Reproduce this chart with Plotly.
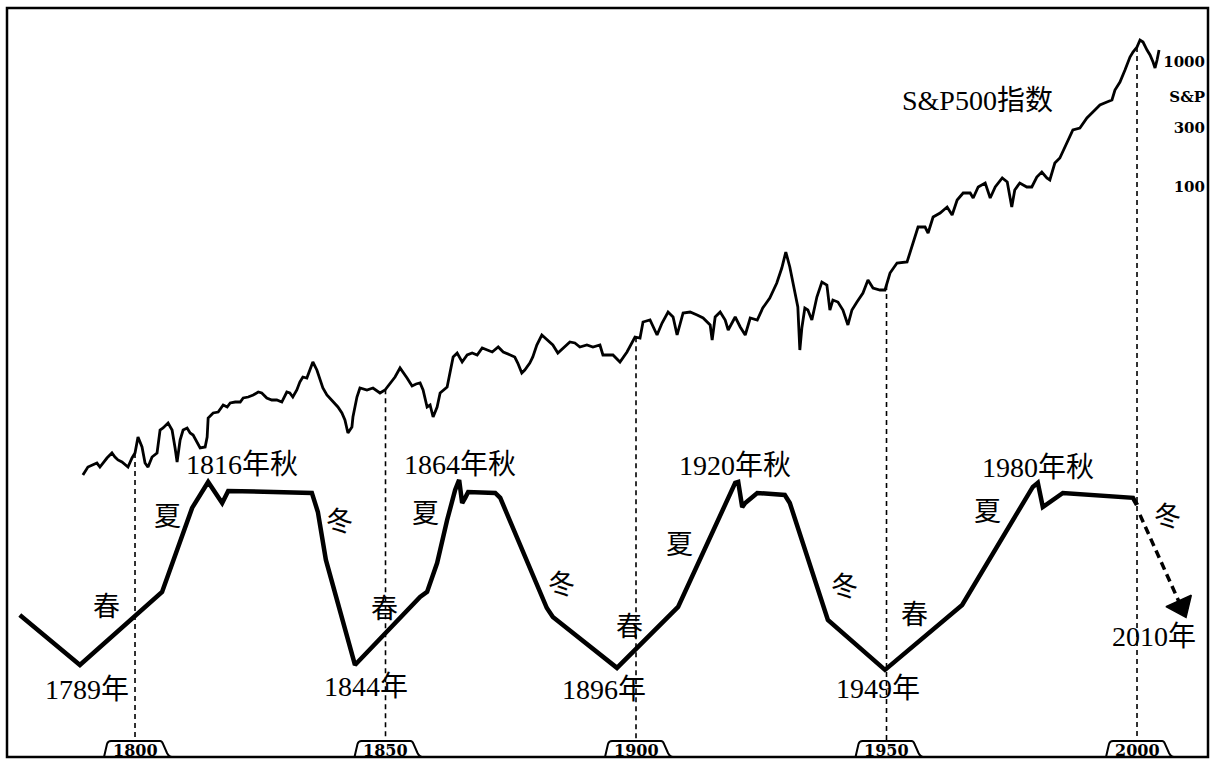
import numpy as np
import plotly.graph_objects as go

# ---------------- data ----------------
sp_years = [1789.6,1790.6,1792.4,1793.0,1794.4,1795.4,1796.0,1796.6,1797.4,1798.0,
            1798.6,1799.4,1800.0,1800.6,1801.4,1802.0,1802.6,1803.4,1804.4,1805.0,
            1805.6,1806.6,1807.4,1808.0,1808.4,1809.0,1809.6,1810.4,1811.0,1811.6,
            1812.4,1813.0,1814.0,1814.4,1814.6,1815.6,1816.6,1817.6,1818.4,1819.0,
            1820.0,1821.0,1821.6,1822.6,1823.6,1824.6,1825.3,1826.3,1827.3,1828.3,
            1829.3,1830.3,1830.9,1831.5,1832.3,1832.9,1833.5,1834.3,1834.9,1835.5,
            1836.3,1836.9,1837.5,1838.3,1839.3,1839.9,1840.5,1841.3,1841.9,1842.5,
            1843.3,1843.5,1844.3,1844.9,1846.3,1847.5,1848.9,1849.9,1850.9,1851.9,
            1852.9,1853.5,1854.3,1855.3,1856.1,1856.9,1857.5,1858.3,1858.9,1859.5,
            1860.3,1860.9,1862.3,1863.5,1864.3,1865.3,1866.3,1867.3,1868.3,1869.3,
            1870.3,1871.3,1872.5,1873.5,1874.9,1875.8,1876.4,1877.2,1877.8,1878.8,
            1879.4,1880.2,1881.2,1882.2,1883.4,1884.4,1885.4,1886.8,1887.8,1888.8,
            1890.2,1891.4,1892.8,1893.4,1895.4,1896.8,1898.2,1899.2,1899.8,1900.8,
            1901.4,1902.8,1904.2,1905.2,1906.4,1907.4,1908.2,1909.4,1910.8,1912.2,
            1913.4,1914.8,1915.2,1915.8,1916.8,1917.8,1918.4,1919.8,1920.8,1921.8,
            1922.8,1924.2,1925.3,1926.7,1928.1,1929.1,1929.9,1930.7,1931.3,1932.3,
            1932.7,1933.1,1933.7,1934.3,1935.1,1936.1,1937.1,1938.1,1938.7,1939.3,
            1940.3,1941.3,1942.3,1943.1,1944.1,1945.3,1946.3,1947.3,1948.7,1949.7,
            1950.7,1952.1,1954.1,1955.1,1956.3,1957.7,1958.3,1959.3,1960.7,1962.1,
            1963.1,1964.1,1965.3,1966.7,1967.3,1968.3,1969.7,1970.7,1971.7,1973.1,
            1974.1,1975.0,1975.6,1976.6,1978.0,1979.0,1980.0,1981.0,1982.0,1982.6,
            1983.6,1984.6,1986.0,1987.2,1988.6,1990.0,1991.2,1992.6,1994.0,1995.0,
            1995.6,1996.6,1997.6,1998.6,1999.2,2000.0,2000.6,2001.2,2002.0,2002.6,
            2003.2,2003.6,2004.0,2004.4]
sp_values = [0.497,0.575,0.619,0.575,0.679,0.745,0.692,0.655,0.631,0.597,
             0.575,0.679,0.745,1.0,0.832,0.619,0.575,0.692,0.745,1.138,
             1.18,1.294,1.138,0.817,0.631,0.946,1.138,1.18,1.076,1.038,
             0.895,0.817,0.832,1.0,1.419,1.556,1.585,1.803,1.738,1.871,
             1.905,1.905,2.051,2.089,2.168,2.291,2.249,2.051,1.977,1.977,
             1.905,2.291,2.249,2.089,2.377,2.754,3.02,2.965,3.436,3.981,
             3.436,2.858,2.466,2.168,1.977,1.871,1.738,1.556,1.368,1.076,
             1.202,1.445,2.089,2.466,2.377,2.466,2.249,2.377,2.704,3.02,
             3.565,3.311,2.965,2.559,2.655,2.704,2.377,1.738,1.803,1.445,
             1.738,2.249,2.512,4.365,4.699,3.981,4.529,4.699,4.529,5.152,
             4.966,4.786,5.248,4.786,4.529,4.365,3.908,3.251,3.436,3.908,
             4.365,5.445,6.546,5.97,5.445,4.699,5.152,5.754,5.649,5.248,
             5.445,5.248,5.445,4.529,4.529,3.981,4.786,5.649,6.31,6.194,
             8.318,8.63,6.546,8.166,10.0,9.12,6.546,9.817,10.0,9.462,
             8.954,7.87,5.97,9.12,10.0,8.63,7.178,9.12,7.586,6.546,
             8.954,8.63,10.76,12.94,17.06,22.49,30.2,22.91,17.38,10.96,
             4.966,7.447,10.76,10.38,8.63,13.18,17.38,16.44,10.38,12.47,
             12.02,10.38,7.87,10.38,12.02,14.19,18.03,15.56,15.0,15.0,
             20.51,24.66,25.12,33.11,47.86,47.86,42.85,57.54,61.94,69.18,
             59.7,78.7,89.54,89.54,81.66,100,107.6,81.66,100,118.0,
             109.6,69.18,94.62,107.6,100,100,120.2,131.8,118.0,113.8,
             155.6,170.6,229.1,285.8,296.5,356.5,398.1,452.9,478.6,496.6,
             597.0,691.8,863.0,1096,1202,1318,1500,1445,1247,1138,
             1000,895.4,1038,1247]

# long-wave (Kondratiev) schematic, arbitrary level units (trough = 0, peak = 100)
wave_years = [1777.0,1789.0,1805.4,1807.4,1811.4,1814.6,1817.4,1818.6,1835.3,1836.5,
              1838.1,1843.9,1856.9,1858.3,1860.3,1862.3,1863.9,1864.7,1865.3,1865.9,
              1866.5,1871.9,1872.9,1882.2,1883.4,1896.2,1900.2,1907.4,1908.4,1919.8,
              1920.4,1921.2,1921.8,1924.2,1929.7,1930.7,1936.7,1938.3,1949.7,1964.1,
              1965.1,1979.2,1980.2,1981.2,1985.2,1999.2,2000.0]
wave_levels = [27.3,0,39.9,55.7,85.8,100,88.5,95.1,94.0,83.6,
               57.4,0,37.2,39.9,55.7,79.2,95.6,101.1,88.5,91.3,
               94.5,94.0,91.3,31.1,26.2,-1.6,9.3,28.4,31.7,99.5,
               100,86.3,88.5,94.0,92.9,88.5,37.2,24.6,-2.7,30.1,
               32.8,97.3,99.5,86.3,94.0,91.3,87.4]
forecast_years = [2000.6, 2008.8]
forecast_levels = [82.0, 32.0]

decade_ticks = [1800, 1850, 1900, 1950, 2000]
sp_tick_vals = [100, 300, 525, 1000]
sp_tick_text = ["100", "300", "S&P", "1000"]

peak_labels = ["1816年秋", "1864年秋", "1920年秋", "1980年秋"]
trough_labels = ["1789年", "1844年", "1896年", "1949年", "2010年"]
season_labels = ["春", "夏", "冬", "春", "夏", "冬", "春", "夏", "冬", "春", "夏", "冬"]
title_label = "S&P500指数"

# ---------------- layout helpers (positions only) ----------------
X_RANGE = [1774.45, 2014.17]
Y_LOG_RANGE = [-2.56, 3.432]
WAVE_RANGE = [-50.3, 359.0]

peak_pos = [(1821.4, 0.390), (1864.9, 0.391), (1919.8, 0.389), (1980.2, 0.387)]
trough_pos = [(1790.4, 0.0895), (1846.1, 0.0935), (1893.6, 0.0895), (1948.3, 0.092), (2003.4, 0.1615)]
season_pos = [(1794.4, 0.2003), (1806.4, 0.3204), (1840.9, 0.3138), (1849.7, 0.1976),
              (1857.9, 0.3244), (1885.2, 0.2296), (1898.8, 0.1736), (1908.6, 0.2830),
              (1941.7, 0.2270), (1955.5, 0.1896), (1970.1, 0.3271), (2006.0, 0.3204)]
title_pos = (1968.1, 0.877)

FONT = "Liberation Serif, Noto Sans CJK SC, serif"
TICK_FONT = "DejaVu Serif, Liberation Serif, serif"

fig = go.Figure()

# dashed connectors from the index down to the decade markers
log_sp = np.log10(sp_values)
for t in decade_ticks:
    top = 10 ** np.interp(t, sp_years, log_sp)
    fig.add_trace(go.Scatter(x=[t, t], y=[top, 10 ** Y_LOG_RANGE[0]], mode="lines",
                             line=dict(color="black", width=1.6, dash="5px,4px"),
                             yaxis="y", hoverinfo="skip"))

# S&P 500 index
fig.add_trace(go.Scatter(x=sp_years, y=sp_values, mode="lines",
                         line=dict(color="black", width=2.8), yaxis="y"))

# long wave
fig.add_trace(go.Scatter(x=wave_years, y=wave_levels, mode="lines",
                         line=dict(color="black", width=4.5), yaxis="y2"))
fig.add_trace(go.Scatter(x=forecast_years, y=forecast_levels, mode="lines+markers",
                         line=dict(color="black", width=3.5, dash="8px,5px"),
                         marker=dict(symbol="triangle-up", size=[0, 24], color="black",
                                     angleref="previous", opacity=1,
                                     line=dict(color="black", width=1.5)),
                         yaxis="y2"))


def label(txt, x, y, size):
    return dict(text=txt, x=x, y=y, xref="x", yref="paper", showarrow=False,
                xanchor="center", yanchor="middle",
                font=dict(family=FONT, size=size, color="black"))


annotations = []
for txt, (x, y) in zip(peak_labels, peak_pos):
    annotations.append(label(txt, x, y, 28))
for txt, (x, y) in zip(trough_labels, trough_pos):
    annotations.append(label(txt, x, y, 28))
for txt, (x, y) in zip(season_labels, season_pos):
    annotations.append(label(txt, x, y, 27))
annotations.append(label(title_label, title_pos[0], title_pos[1], 28))
for t in decade_ticks:
    annotations.append(dict(text="<b>%d</b>" % t, x=t, y=0, xref="x", yref="paper",
                            xanchor="center", yanchor="middle", yshift=7, showarrow=False,
                            font=dict(family=TICK_FONT, size=16, color="black")))

shapes = []
tab_path = "M -31,0 L -28,13 Q -27,16 -24,16 L 25,16 Q 27,16 28,13 L 32,4 Q 34,0 37,0"
for t in decade_ticks:
    shapes.append(dict(type="path", xref="x", yref="paper", xsizemode="pixel", ysizemode="pixel",
                       xanchor=t, yanchor=0, path=tab_path, fillcolor="white",
                       line=dict(color="black", width=2), layer="above"))
shapes.append(dict(type="rect", xref="paper", yref="paper", x0=0, y0=0, x1=1, y1=1,
                   line=dict(color="black", width=2.5), layer="above"))

fig.update_layout(
    width=1217, height=765,
    margin=dict(l=7, r=9, t=8, b=8),
    paper_bgcolor="white", plot_bgcolor="white",
    showlegend=False,
    xaxis=dict(range=X_RANGE, visible=False),
    yaxis=dict(type="log", range=Y_LOG_RANGE, side="right", tickvals=sp_tick_vals,
               ticktext=["<b>%s</b>" % s for s in sp_tick_text], ticklabelposition="inside",
               ticks="", showgrid=False, zeroline=False, showline=False,
               tickfont=dict(family=TICK_FONT, size=15, color="black")),
    yaxis2=dict(overlaying="y", range=WAVE_RANGE, visible=False),
    annotations=annotations,
    shapes=shapes,
)

fig.write_html("out.html", config={"displayModeBar": False},
               post_script="document.body.style.margin='0';document.body.style.overflow='hidden';")
